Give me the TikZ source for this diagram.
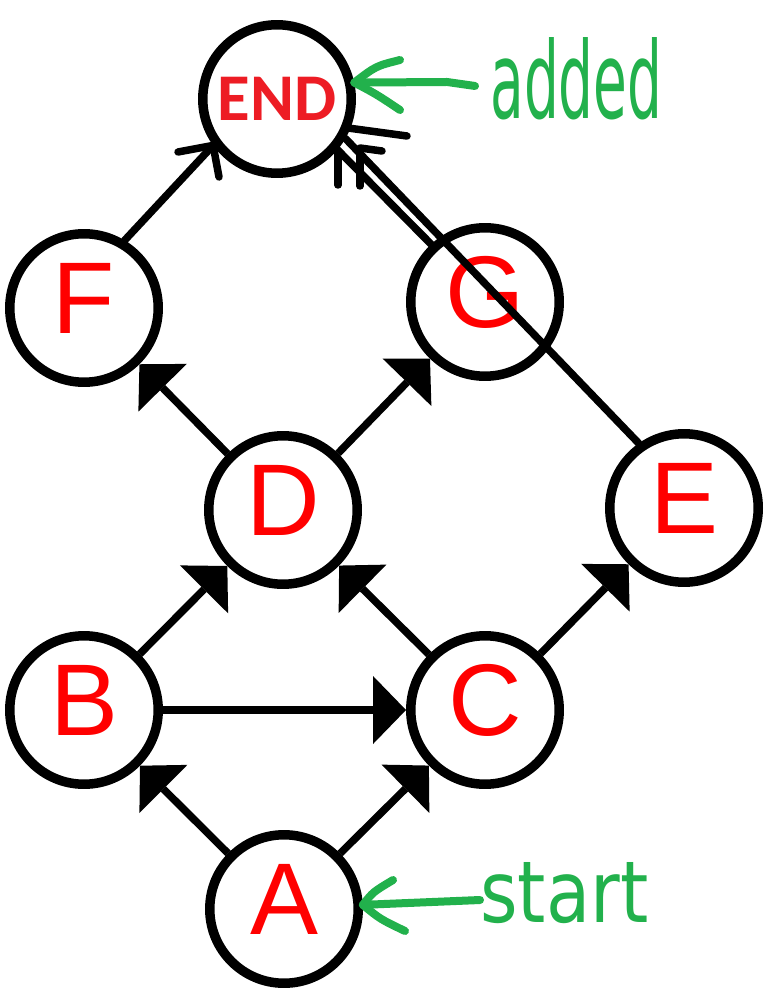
\documentclass[tikz,border=0pt]{standalone}
\usepackage{fontspec}
\usepackage{graphicx}
\usetikzlibrary{arrows.meta}
\newfontfamily\arialf{Liberation Sans}
\newfontfamily\calf{Carlito}
\newfontfamily\handf{DejaVu Sans}
\definecolor{endred}{RGB}{237,28,36}
\definecolor{paintgreen}{RGB}{34,177,76}
\tikzset{
  vert/.style={circle, draw=black, line width=0.19cm, minimum size=2.97cm, inner sep=0pt,
    font=\arialf\fontsize{58}{58}\selectfont, text=red, text depth=0.4cm},
  endvert/.style={circle, draw=black, line width=0.19cm, minimum size=2.97cm, inner sep=0pt,
    font=\calf\bfseries\fontsize{38}{38}\selectfont, text=endred},
  edge/.style={draw=black, line width=0.15cm, -{Triangle[length=0.66cm,width=1.36cm,line width=0pt]}},
  plain/.style={draw=black, line width=0.15cm, line cap=round, line join=round},
  greenpen/.style={draw=paintgreen, line width=0.16cm, line cap=round, line join=round},
  greentext/.style={text=paintgreen, inner sep=0pt, anchor=north west, font=\handf}
}
\begin{document}
\begin{tikzpicture}[x=0.02cm,y=-0.02cm]
\fill[white] (0,0) rectangle (769,1006);
\useasboundingbox (0,0) rectangle (769,1006);

% nodes
\node[endvert] (END) at (277,99) {END};
\node[vert] (F) at (84,308) {F};
\node[vert] (G) at (485,302) {G};
\node[vert] (D) at (283,510) {D};
\node[vert] (E) at (684,508) {E};
\node[vert] (B) at (84,710) {B};
\node[vert] (C) at (485,710) {C};
\node[vert] (A) at (284,909) {A};

% DAG edges
\draw[edge] (A) -- (B);
\draw[edge] (A) -- (C);
\draw[edge] (B) -- (C);
\draw[edge] (B) -- (D);
\draw[edge] (C) -- (D);
\draw[edge] (C) -- (E);
\draw[edge] (D) -- (F);
\draw[edge] (D) -- (G);

% hand-drawn edges to END
\draw[plain] (F.59) -- (END.216);
\draw[plain] (G.133) -- (END.-40);
\draw[plain] (E.125) -- (END.-30);
% hand-drawn arrow barbs
\draw[plain] (178,152) -- (END.216) -- (219,177);
\draw[plain] (338,151) -- (338,185);
\draw[plain] (360,151) -- (360,186);
\draw[plain] (348,128) -- (407,136);
\draw[plain] (360,148) -- (382,151);

% green annotations
\coordinate (addtail) at (475,86);
\coordinate (starttail) at (480,900);
\draw[greenpen] (addtail) -- (447,82) -- (END.12);
\draw[greenpen] (400,60) .. controls (376,66) .. (END.12) .. controls (376,94) .. (400,110);
\draw[greenpen] (starttail) -- (A.3);
\draw[greenpen] (393,880) .. controls (373,892) .. (A.3) .. controls (380,919) .. (405,931);

\node[greentext] (added) at (490,37) {\resizebox{3.44cm}{1.62cm}{added}};
\node[greentext] (start) at (480,862) {\resizebox{3.36cm}{1.2cm}{start}};
\end{tikzpicture}
\end{document}
